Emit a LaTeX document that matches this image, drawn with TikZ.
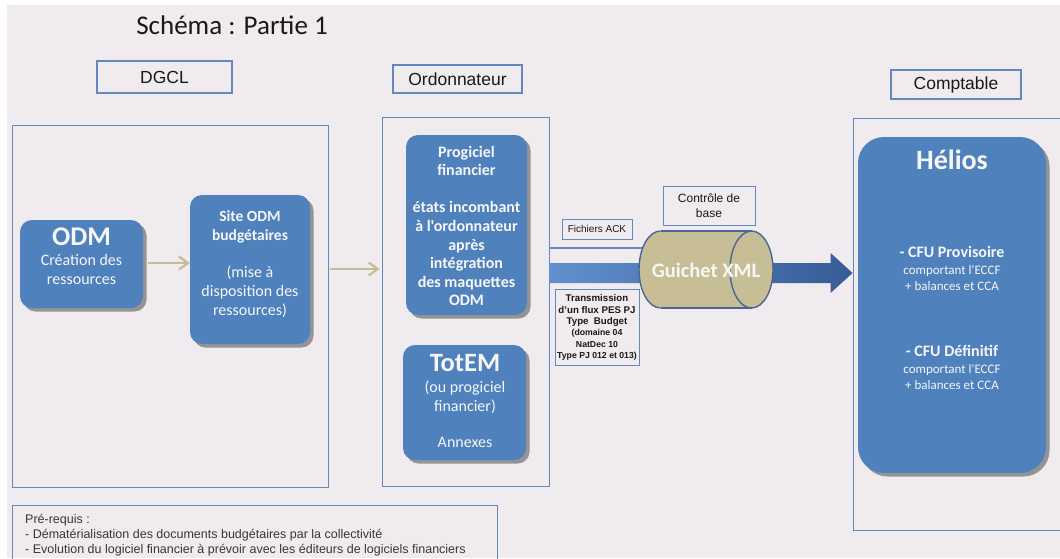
\documentclass[tikz,border=0pt]{standalone}
\usepackage{fontspec}
\setmainfont{Liberation Sans}
\newfontfamily\calibri{Carlito}
\usetikzlibrary{arrows.meta,shadows,calc}

\definecolor{bgc}{RGB}{239,235,239}
\definecolor{framec}{RGB}{100,135,192}
\definecolor{boxblue}{RGB}{79,129,189}
\definecolor{tanc}{RGB}{196,189,151}
\definecolor{cylfill}{RGB}{200,190,150}
\definecolor{cylline}{RGB}{72,102,150}
\definecolor{shadowc}{RGB}{148,148,148}
\definecolor{bandl}{RGB}{98,143,205}
\definecolor{bandr}{RGB}{55,92,150}
\definecolor{txtc}{RGB}{25,25,25}
\definecolor{greytxt}{RGB}{55,55,55}
\definecolor{whitetxt}{RGB}{246,246,246}

\newcommand{\mybold}[1]{{\fontsize{15.5}{19}\selectfont\bfseries #1}}

\tikzset{
  frame/.style={draw=framec, line width=0.9pt, inner sep=0pt},
  hdr/.style={draw=framec, line width=1.1pt, inner sep=0pt, text=txtc,
    font=\fontsize{17.5}{20}\selectfont},
  bluebox/.style={fill=boxblue, rounded corners=12pt, inner sep=0pt,
    drop shadow={shadow xshift=3.5pt, shadow yshift=-3.5pt, fill=shadowc, opacity=1}},
  wtext/.style={text=whitetxt, align=center, inner sep=0pt,
    font=\calibri\fontsize{16}{19}\selectfont},
  lbl/.style={draw=framec, line width=0.9pt, inner sep=0pt, align=center, text=txtc},
  tanarrow/.style={draw=tanc, line width=2.2pt,
    -{Straight Barb[length=9pt,width=13pt]}},
  thinblue/.style={draw=framec, line width=1.3pt},
  cylstyle/.style={draw=cylline, line width=1.4pt},
}

\begin{document}
\begin{tikzpicture}[x=1pt,y=-1pt]
\useasboundingbox (0,0) rectangle (1060,558);
\fill[white] (0,0) rectangle (1060,558);
\fill[bgc] (7,5) rectangle (1060,558);

% title
\node[font=\calibri\fontsize{27}{30}\selectfont, text=txtc, inner sep=0pt] (title) at (232,25) {Schéma : Partie 1};

% headers
\node[hdr, minimum width=135pt, minimum height=32pt] (dgcl) at (164.5,77) {DGCL};
\node[hdr, minimum width=129pt, minimum height=28pt] (ordo) at (457.5,79) {Ordonnateur};
\node[hdr, minimum width=130pt, minimum height=29pt] (compt) at (956,84.5) {Comptable};

% frames
\node[frame, minimum width=316pt, minimum height=362pt] (fdgcl) at (170,306) {};
\node[frame, minimum width=167pt, minimum height=369pt] (fordo) at (465.5,301.5) {};
\node[frame, minimum width=211pt, minimum height=412pt] (fcompt) at (958.5,324) {};
\node[frame, minimum width=485pt, minimum height=60pt] (prereq) at (254.5,535) {};

% pre-requis text
\node[anchor=north west, align=left, inner sep=0pt, text=greytxt,
      font=\fontsize{12.5}{15}\selectfont] (prereqt) at (25,514.5)
  {Pré-requis :\\- Dématérialisation des documents budgétaires par la collectivité\\- Evolution du logiciel financier à prévoir avec les éditeurs de logiciels financiers};

% blue boxes
\node[bluebox, minimum width=123pt, minimum height=88pt] (odm) at (81.5,264) {};
\node[wtext] (odmt) at (81.5,256) {{\fontsize{27}{27}\selectfont\bfseries ODM}\\[1pt]Création des\\ressources};

\node[bluebox, minimum width=120pt, minimum height=149pt] (site) at (250,269.5) {};
\node[wtext] (sitet) at (250,264.5) {\mybold{Site ODM}\\\mybold{budgétaires}\\[18pt](mise à\\disposition des\\ressources)};

\node[bluebox, minimum width=121pt, minimum height=180pt] (progi) at (466.5,225) {};
\node[wtext, font=\calibri\bfseries\fontsize{16}{18.6}\selectfont] (progit) at (466.5,226)
  {Progiciel\\financier\\[18.6pt]états incombant\\à l'ordonnateur\\après\\intégration\\des maquettes\\ODM};

\node[bluebox, minimum width=123pt, minimum height=115pt] (totem) at (464.5,402.5) {};
\node[wtext] (totemt) at (465,401) {{\fontsize{26.5}{26.5}\selectfont\bfseries TotEM}\\[2pt](ou progiciel\\financier)\\[17pt]Annexes};

\node[bluebox, rounded corners=26pt, minimum width=188pt, minimum height=336pt] (helios) at (952,305) {};
\node[wtext, font=\calibri\fontsize{13}{16.5}\selectfont] (heliost) at (952,269.5)
  {{\fontsize{28}{28}\selectfont\bfseries Hélios}\\[72pt]{\fontsize{16}{16}\selectfont\bfseries - CFU Provisoire}\\comportant l'ECCF\\+ balances et CCA\\[49.5pt]{\fontsize{16}{16}\selectfont\bfseries - CFU Définitif}\\comportant l'ECCF\\+ balances et CCA};

% tan arrows
\coordinate (y263) at (0,263);
\coordinate (y269) at (0,269);
\draw[tanarrow] (odm.east |- y263) ++(5,0) -- (site.west |- y263);
\draw[tanarrow, shorten >=2pt] (fdgcl.east |- y269) ++(2,0) -- (fordo.west |- y269);

% thick flow arrow (Ordonnateur -> Comptable)
\coordinate (y273) at (0,273);
\path (fordo.east |- y273) coordinate (bs) (fcompt.west |- y273) coordinate (be);
\shade[left color=bandl, right color=bandr]
  ($(bs)+(0,-10)$) -- ($(be)+(-22,-10)$) -- ($(be)+(-22,-20)$) -- (be)
  -- ($(be)+(-22,20)$) -- ($(be)+(-22,10)$) -- ($(bs)+(0,10)$) -- cycle;

% thin ACK line
\coordinate (y248) at (0,248);
\coordinate (cylw) at (642,248);
\draw[thinblue] (fordo.east |- y248) -- (cylw);

% cylinder (Guichet XML)
\fill[cylfill] (660.5,269.5) ellipse [x radius=21.5, y radius=38.5];
\fill[cylfill] (660.5,231) rectangle (751.5,308);
\fill[cylfill] (751.5,269.5) ellipse [x radius=21.5, y radius=38.5];
\draw[cylstyle] (660.5,231) -- (751.5,231);
\draw[cylstyle] (660.5,308) -- (751.5,308);
\draw[cylstyle] (660.5,231) arc[start angle=270, end angle=90, x radius=21.5, y radius=38.5];
\draw[cylstyle] (751.5,269.5) ellipse [x radius=21.5, y radius=38.5];
\node[text=whitetxt, inner sep=0pt, font=\calibri\bfseries\fontsize{20.5}{22}\selectfont] (guichet) at (706,270) {Guichet XML};

% small label boxes
\node[lbl, minimum width=92pt, minimum height=39pt, font=\fontsize{12}{15}\selectfont] (ctrl) at (709,205.5) {Contrôle de\\base};
\node[lbl, minimum width=70pt, minimum height=20pt, font=\fontsize{10}{12}\selectfont] (ack) at (597,229) {Fichiers ACK};
\node[lbl, minimum width=84pt, minimum height=76pt, font=\bfseries\fontsize{8.7}{11.4}\selectfont] (trans) at (597,327.5)
  {{\fontsize{9.7}{11.4}\selectfont Transmission}\\{\fontsize{9.7}{11.4}\selectfont d'un flux PES PJ}\\{\fontsize{9.7}{11.4}\selectfont Type\ \ Budget}\\(domaine 04\\NatDec 10\\Type PJ 012 et 013)};

\end{tikzpicture}
\end{document}
